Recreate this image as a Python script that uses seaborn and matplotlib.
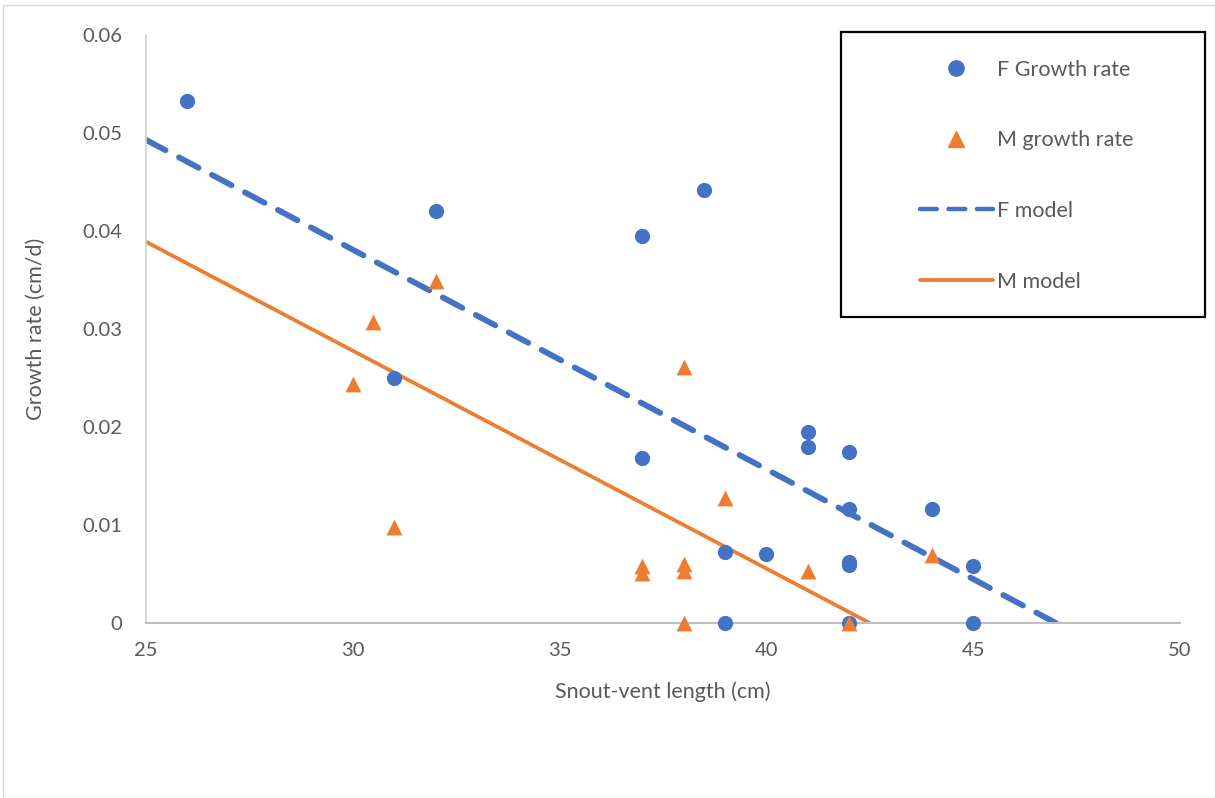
import pandas as pd
import matplotlib.pyplot as plt
import seaborn as sns
from matplotlib.lines import Line2D
from matplotlib.patches import Rectangle

# ---- data ----
f_length = [26, 32, 31, 37, 38.5, 37, 41, 41, 42, 42, 44, 39, 40, 42, 42, 45, 39, 42, 45]
f_growth = [0.0533, 0.0420, 0.0250, 0.0395, 0.0442, 0.0168, 0.0195, 0.0180, 0.0174,
            0.0116, 0.0116, 0.0072, 0.0070, 0.0062, 0.0059, 0.0058, 0.0, 0.0, 0.0]

m_length = [30, 30.5, 31, 32, 37, 37, 38, 38, 38, 38, 39, 41, 42, 44]
m_growth = [0.0244, 0.0307, 0.0098, 0.0349, 0.0058, 0.0051, 0.0261, 0.0060, 0.0053,
            0.0, 0.0128, 0.0053, 0.0, 0.0069]

f_model_x = [25, 47.0]
f_model_y = [0.0493, 0.0]
m_model_x = [25, 42.5]
m_model_y = [0.0389, 0.0]

x_ticks = [25, 30, 35, 40, 45, 50]
y_ticks = [0, 0.01, 0.02, 0.03, 0.04, 0.05, 0.06]
y_tick_labels = ["0", "0.01", "0.02", "0.03", "0.04", "0.05", "0.06"]

BLUE = "#4472C4"
ORANGE = "#ED7D31"
GREY_TXT = "#595959"

df_f = pd.DataFrame({"x": f_length, "y": f_growth})
df_m = pd.DataFrame({"x": m_length, "y": m_growth})
df_fm = pd.DataFrame({"x": f_model_x, "y": f_model_y})
df_mm = pd.DataFrame({"x": m_model_x, "y": m_model_y})

sns.set_theme(style="white")
plt.rcParams["font.family"] = ["Lato", "DejaVu Sans"]

fig = plt.figure(figsize=(12.15, 7.98), dpi=100)
ax = fig.add_axes([146 / 1215, 1 - 623 / 798, (1180 - 146) / 1215, (623 - 35) / 798])

sns.lineplot(data=df_fm, x="x", y="y", ax=ax, color=BLUE, linewidth=4.2,
             dashes=False, zorder=2)
ax.lines[-1].set_dashes((3.8, 2.6))
ax.lines[-1].set_dash_capstyle("round")
sns.lineplot(data=df_mm, x="x", y="y", ax=ax, color=ORANGE, linewidth=2.7, zorder=2)

sns.scatterplot(data=df_f, x="x", y="y", ax=ax, color=BLUE, marker="o", s=120,
                linewidth=0, zorder=3, clip_on=False)
sns.scatterplot(data=df_m, x="x", y="y", ax=ax, color=ORANGE, marker="^", s=130,
                linewidth=0, zorder=3, clip_on=False)

ax.set_xlim(25, 50)
ax.set_ylim(0, 0.06)
ax.set_xticks(x_ticks)
ax.set_yticks(y_ticks)
ax.set_yticklabels(y_tick_labels)
ax.tick_params(axis="both", length=0, labelsize=14.5, labelcolor=GREY_TXT)
ax.tick_params(axis="y", pad=17)
ax.tick_params(axis="x", pad=14)

for side in ["top", "right"]:
    ax.spines[side].set_visible(False)
ax.spines["left"].set_color("#D0D0D0")
ax.spines["bottom"].set_color("#BFBFBF")
ax.spines["left"].set_linewidth(1.2)
ax.spines["bottom"].set_linewidth(1.5)

ax.set_xlabel("Snout-vent length (cm)", fontsize=15.5, color=GREY_TXT, labelpad=16)
ax.set_ylabel("Growth rate (cm/d)", fontsize=15.5, color=GREY_TXT, labelpad=26)

# legend
handles = [
    Line2D([], [], color=BLUE, marker="o", linestyle="none", markersize=11),
    Line2D([], [], color=ORANGE, marker="^", linestyle="none", markersize=11),
    Line2D([], [], color=BLUE, linestyle=(0, (3.8, 2.6)), linewidth=3.2,
           dash_capstyle="round"),
    Line2D([], [], color=ORANGE, linewidth=2.7),
]
labels = ["F Growth rate", "M growth rate", "F model", "M model"]
leg = fig.legend(handles, labels, loc="upper left",
                 bbox_to_anchor=(909 / 1215, 1 - 49 / 798), frameon=False,
                 fontsize=15.5, labelspacing=2.35, handlelength=3.4,
                 handletextpad=0.2, borderpad=0)
for t in leg.get_texts():
    t.set_color(GREY_TXT)

fig.patches.append(Rectangle((841 / 1215, 1 - 317 / 798), (1205 - 841) / 1215,
                             (317 - 32) / 798, transform=fig.transFigure,
                             fill=False, edgecolor="black", linewidth=1.6))
fig.patches.append(Rectangle((3 / 1215, 0), 1 - 3 / 1215, 1 - 5 / 798,
                             transform=fig.transFigure, fill=False,
                             edgecolor="#D9D9D9", linewidth=1))

fig.savefig("out.png", dpi=100)
